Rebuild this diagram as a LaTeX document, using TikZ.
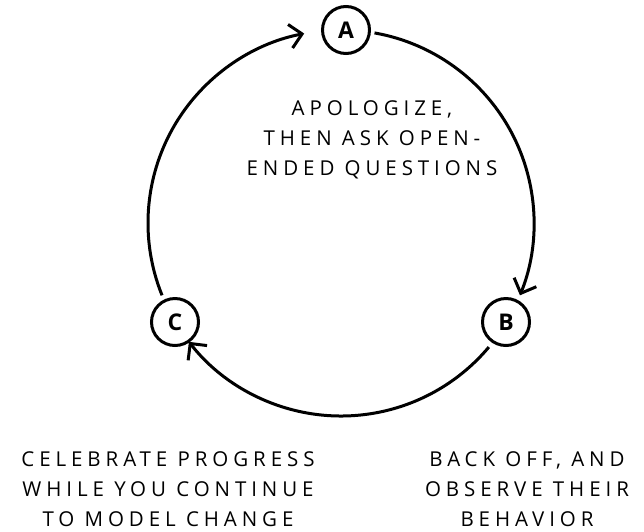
\documentclass[tikz,border=0pt]{standalone}
\usepackage{fontspec}
\setmainfont[LetterSpace=24]{Open Sans}
\usetikzlibrary{arrows.meta}
\begin{document}
\begin{tikzpicture}[x=1pt,y=-1pt,
  stage/.style={circle,draw,line width=3pt,minimum size=47pt,inner sep=0pt,font=\fontsize{23}{23}\selectfont\bfseries},
  cyc/.style={line width=3pt,-{Straight Barb[length=12pt,width=24pt,line width=3pt]}},
  txt/.style={align=center,font=\fontsize{20.5}{30}\selectfont}]
\useasboundingbox (0,0) rectangle (644,531);
\node[stage] (A) at (346,30) {A};
\node[stage] (B) at (506,322) {B};
\node[stage] (C) at (175,322) {C};
\draw[cyc] ([shift={(341,223)}]-80:193) arc[start angle=-80,end angle=22,radius=193];
\draw[cyc] ([shift={(341,223)}]40:193) arc[start angle=40,end angle=142,radius=193];
\draw[cyc] ([shift={(341,223)}]158:193) arc[start angle=158,end angle=259,radius=193];
\node[txt] (t1) at (372,140) {APOLOGIZE,\\THEN ASK OPEN-\\ENDED QUESTIONS};
\node[txt] (t2) at (168,489) {CELEBRATE PROGRESS\\WHILE YOU CONTINUE\\TO MODEL CHANGE};
\node[txt] (t3) at (527,489) {BACK OFF, AND\\OBSERVE THEIR\\BEHAVIOR};
\end{tikzpicture}
\end{document}
